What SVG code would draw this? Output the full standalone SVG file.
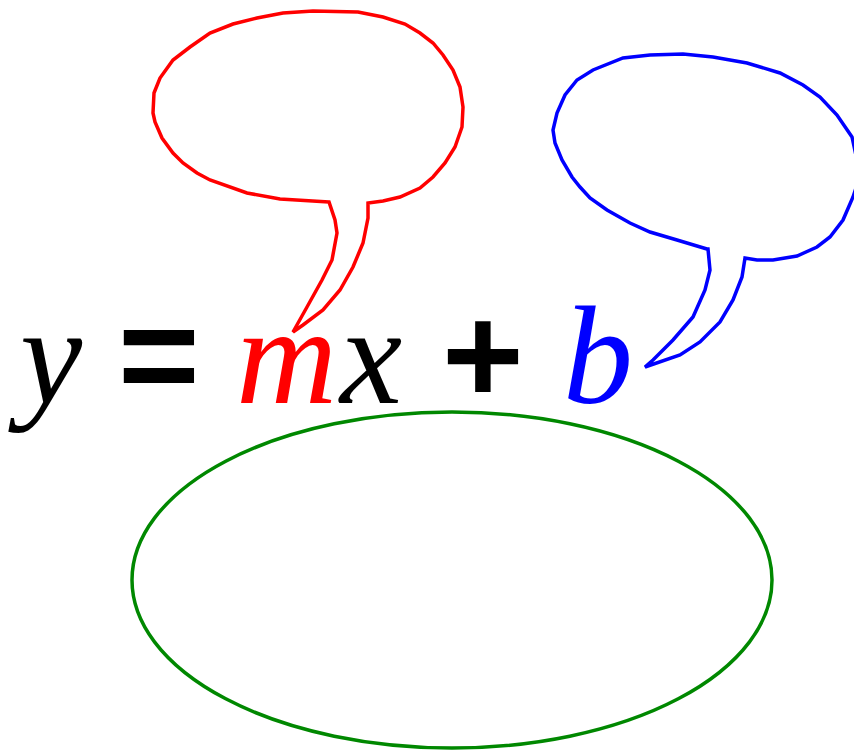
<svg xmlns="http://www.w3.org/2000/svg" width="854" height="750" viewBox="0 0 854 750">
<style>
.it{font-family:"Liberation Serif","Times New Roman",serif;font-style:italic;font-size:140px}
.op{font-family:"Liberation Sans",Arial,sans-serif;font-weight:bold;font-size:140px;text-anchor:middle}
.bub{fill:none;stroke-width:3.5;stroke-linejoin:miter}
</style>
<rect width="854" height="750" fill="#fff"/>
<g id="equation">
<text class="it" x="20" y="403" fill="#000">y</text>
<text class="op" x="159" y="403" fill="#000">=</text>
<text class="it" x="236" y="403" fill="#f00">m</text>
<text class="it" x="340" y="403" fill="#000">x</text>
<text class="op" x="483" y="403" fill="#000">+</text>
<text class="it" x="563" y="403" fill="#00f">b</text>
</g>
<g id="bubble-m">
<path class="bub" stroke="#f00" d="M329,202 L280,199 247,193 210,180 197,173 183,163 173,153 162,138 155,122 153,113 154,93 160,78 173,60 190,47 210,33 233,24 257,18 283,13 313,11 358,12 383,17 405,24 420,33 433,43 443,55 453,70 460,87 463,107 462,127 455,147 445,163 433,177 420,188 400,197 383,201 368,203 368,218 363,243 353,267 340,290 323,310 303,325 293,332 307,307 322,280 332,260 337,233 335,220 Z"/>
</g>
<g id="bubble-b">
<path class="bub" stroke="#00f" d="M707,249 L677,240 650,232 630,223 607,210 590,198 580,187 572,177 562,160 555,143 553,130 557,113 565,95 577,80 593,70 623,58 650,55 683,54 713,57 747,63 780,73 803,85 820,97 837,115 852,137 857,160 857,185 853,197 843,220 830,237 817,247 797,256 773,260 757,260 745,258 742,277 733,300 720,322 700,342 680,355 645,367 653,360 673,340 693,317 705,290 710,270 708,249 Z"/>
</g>
<g id="ellipse">
<ellipse cx="452" cy="580" rx="320" ry="168" fill="none" stroke="#080" stroke-width="3.5"/>
</g>
</svg>
